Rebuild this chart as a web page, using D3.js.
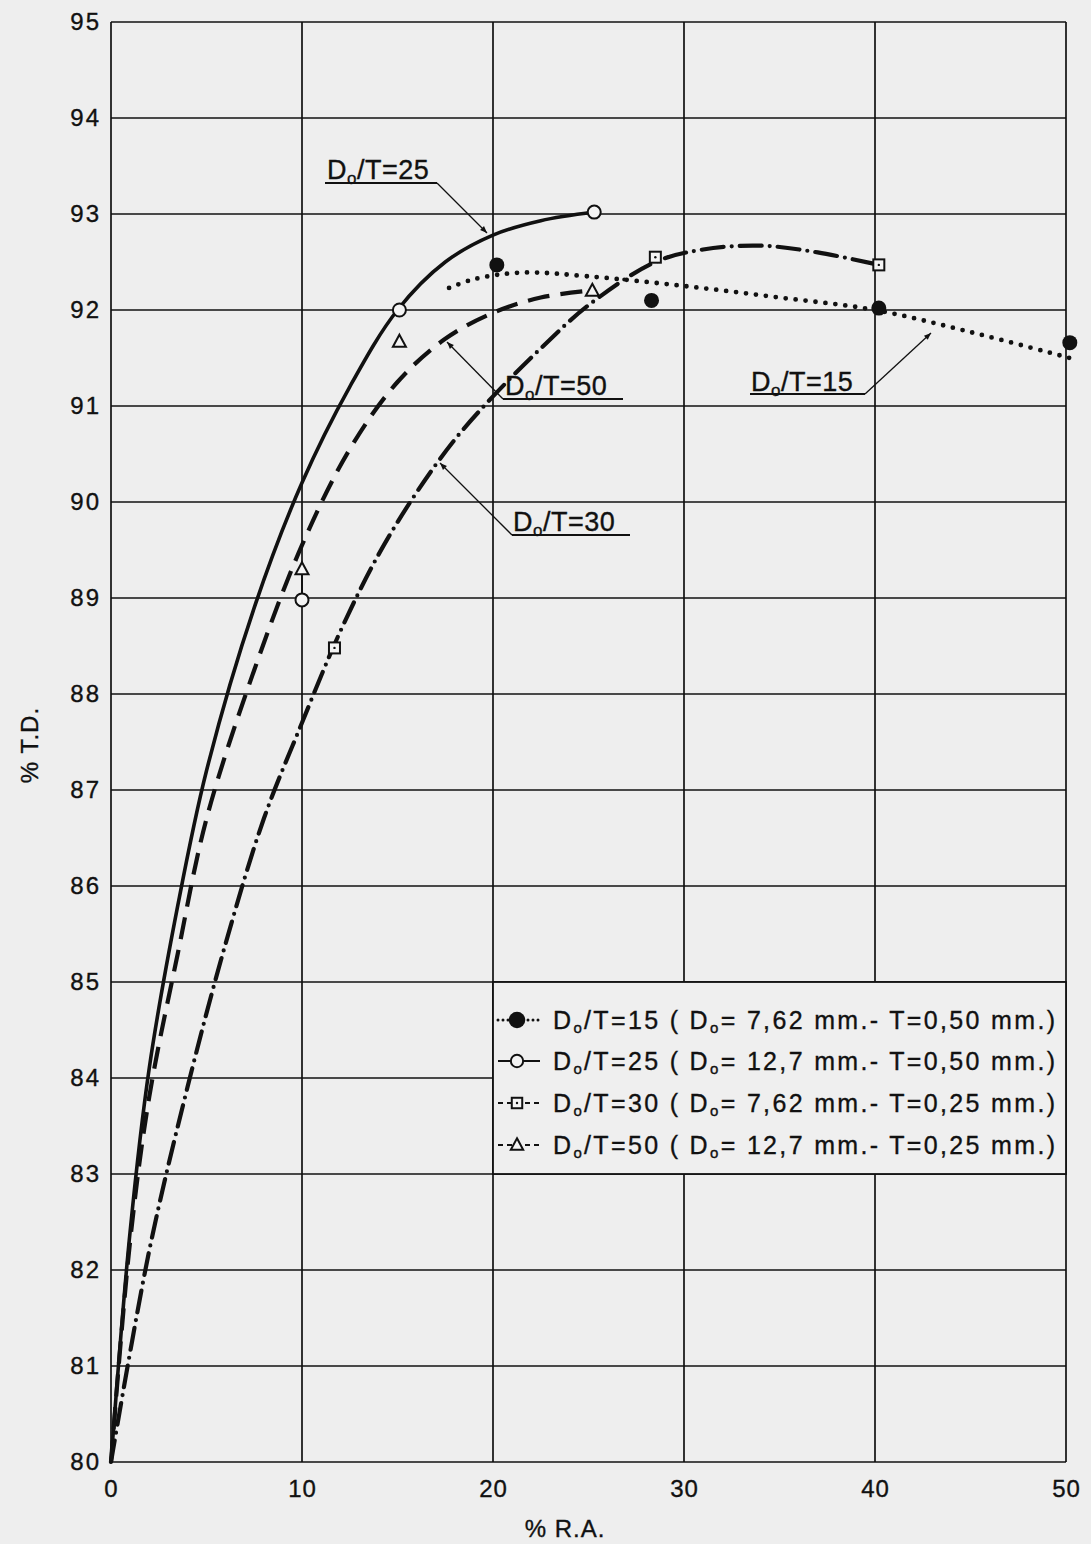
<!DOCTYPE html>
<html><head><meta charset="utf-8">
<script src="https://cdn.jsdelivr.net/npm/d3@7/dist/d3.min.js"></script>
<style>
html,body{margin:0;padding:0;background:#eeeeee;}
svg text{font-family:"Liberation Sans","DejaVu Sans",sans-serif;fill:#111;stroke:#111;stroke-width:0.35px;}
</style></head><body>
<svg id="c" width="1091" height="1544"></svg>
<script>
// ---- data ----
const xTicks = [0,10,20,30,40,50];
const yTicks = [80,81,82,83,84,85,86,87,88,89,90,91,92,93,94,95];
const seriesNames = ["15","25","30","50"];
const legendLabels = [
  ["15"," 7,62 mm.- T=0,50 mm.)"],
  ["25"," 12,7 mm.- T=0,50 mm.)"],
  ["30"," 7,62 mm.- T=0,25 mm.)"],
  ["50"," 12,7 mm.- T=0,25 mm.)"]
];
// fitted curves
const curve15x = [17.7,19,21.5,25,30,35,40,45,50.2];
const curve15y = [92.23,92.32,92.39,92.35,92.25,92.13,92.0,91.77,91.5];
const curve25x = [0,1,2,3.5,5,7.5,10,12.5,15,17.5,20,22.5,25.3];
const curve25y = [80,82.4,84.1,85.8,87.2,88.9,90.2,91.2,92.0,92.5,92.78,92.93,93.02];
const curve30x = [0,2,4,6,8,10,12,14,16,18,20,22.5,25,28.5,31,34,37,40.2];
const curve30y = [80,82.2,83.9,85.4,86.7,87.7,88.65,89.45,90.1,90.65,91.1,91.6,92.05,92.5,92.63,92.67,92.6,92.47];
const curve50x = [0,1,2,3.5,5,7.5,10,12.5,15,17.5,20,22.5,25];
const curve50y = [80,82.3,83.8,85.3,86.7,88.25,89.55,90.55,91.25,91.7,91.97,92.13,92.2];
// measured points
const pts15x = [20.2,28.3,40.2,50.2];
const pts15y = [92.47,92.1,92.02,91.66];
const pts25x = [10,15.1,25.3];
const pts25y = [88.98,92.0,93.02];
const pts30x = [11.7,28.5,40.2];
const pts30y = [88.48,92.55,92.47];
const pts50x = [10,15.1,25.2];
const pts50y = [89.3,91.67,92.2];

// ---- layout ----
const svg = d3.select("#c");
const x = d3.scaleLinear().domain([0,50]).range([111,1066]);
const y = d3.scaleLinear().domain([80,95]).range([1462,22]);
const zip = (a,b)=>a.map((v,i)=>[v,b[i]]);

// grid
const g = svg.append("g");
g.selectAll("line.v").data(xTicks).join("line")
  .attr("x1",d=>x(d)).attr("x2",d=>x(d)).attr("y1",y(95)).attr("y2",y(80))
  .attr("stroke","#111").attr("stroke-width",1.7);
g.selectAll("line.h").data(yTicks).join("line")
  .attr("x1",x(0)).attr("x2",x(50)).attr("y1",d=>y(d)).attr("y2",d=>y(d))
  .attr("stroke","#111").attr("stroke-width",1.7);

// axes (labels only)
const ax = svg.append("g").attr("transform",`translate(0,${y(80)})`)
  .call(d3.axisBottom(x).tickValues(xTicks).tickSize(0).tickPadding(12).tickFormat(d3.format("d")));
ax.select(".domain").remove();
ax.selectAll("text").attr("font-size",24).attr("font-family","Liberation Sans").attr("fill","#111").attr("dy","0.95em").attr("letter-spacing",1);
const ay = svg.append("g").attr("transform",`translate(${x(0)},0)`)
  .call(d3.axisLeft(y).tickValues(yTicks).tickSize(0).tickPadding(10).tickFormat(d3.format("d")));
ay.select(".domain").remove();
ay.selectAll("text").attr("font-size",24).attr("font-family","Liberation Sans").attr("fill","#111").attr("letter-spacing",2);

svg.append("text").attr("x",565).attr("y",1537).attr("text-anchor","middle").attr("font-size",24).attr("letter-spacing",1).text("% R.A.");
svg.append("text").attr("transform","translate(38,745) rotate(-90)").attr("text-anchor","middle").attr("font-size",24).attr("letter-spacing",1).text("% T.D.");

// curves
const line = d3.line().x(d=>x(d[0])).y(d=>y(d[1])).curve(d3.curveCatmullRom.alpha(0.5));
const styles = {
  "15":{dash:"0 10",w:4.8,cap:"round"},
  "25":{dash:null,w:3.6,cap:"butt"},
  "30":{dash:"22 8 0 8",w:4.2,cap:"round"},
  "50":{dash:"22 11",w:4.2,cap:"butt"}
};
const curves = {"15":zip(curve15x,curve15y),"25":zip(curve25x,curve25y),"30":zip(curve30x,curve30y),"50":zip(curve50x,curve50y)};
seriesNames.forEach(k=>{
  svg.append("path").attr("d",line(curves[k])).attr("fill","none").attr("stroke","#111")
    .attr("stroke-width",styles[k].w).attr("stroke-linecap",styles[k].cap)
    .attr("stroke-dasharray",styles[k].dash);
});

// markers
function marker(sel,k,cx,cy,s){
  if(k==="15") sel.append("circle").attr("cx",cx).attr("cy",cy).attr("r",7.5*s).attr("fill","#111");
  if(k==="25") sel.append("circle").attr("cx",cx).attr("cy",cy).attr("r",6.5*s).attr("fill","#f4f4f4").attr("stroke","#111").attr("stroke-width",2);
  if(k==="30"){ sel.append("rect").attr("x",cx-5.5*s).attr("y",cy-5.5*s).attr("width",11*s).attr("height",11*s).attr("fill","#f4f4f4").attr("stroke","#111").attr("stroke-width",2);
    sel.append("circle").attr("cx",cx).attr("cy",cy).attr("r",1.2).attr("fill","#111"); }
  if(k==="50") sel.append("path").attr("d",`M${cx},${cy-7*s}L${cx+6.5*s},${cy+5*s}L${cx-6.5*s},${cy+5*s}Z`).attr("fill","#f4f4f4").attr("stroke","#111").attr("stroke-width",2);
}
const pts = {"15":zip(pts15x,pts15y),"25":zip(pts25x,pts25y),"30":zip(pts30x,pts30y),"50":zip(pts50x,pts50y)};
// small vertical tick from circle to triangle at x=10
svg.append("line").attr("x1",x(10)).attr("x2",x(10)).attr("y1",y(88.98)).attr("y2",y(89.3)).attr("stroke","#111").attr("stroke-width",2);
const mk = svg.append("g");
seriesNames.forEach(k=>pts[k].forEach(p=>marker(mk,k,x(p[0]),y(p[1]),1)));

// annotations
svg.append("defs").append("marker").attr("id","arr").attr("viewBox","0 0 10 10").attr("refX",10).attr("refY",5)
  .attr("markerWidth",16).attr("markerHeight",7).attr("markerUnits","userSpaceOnUse").attr("orient","auto")
  .append("path").attr("d","M0,1L10,5L0,9Z").attr("fill","#111");
function label(tx,ty,num,ux1,ux2,uy,lx,ly,tipx,tipy){
  const t = svg.append("text").attr("x",tx).attr("y",ty).attr("font-size",27).attr("letter-spacing",0.5);
  t.append("tspan").text("D");
  t.append("tspan").attr("font-size",17).attr("dy",5).text("o");
  t.append("tspan").attr("dy",-5).text("/T="+num);
  svg.append("line").attr("x1",ux1).attr("x2",ux2).attr("y1",uy).attr("y2",uy).attr("stroke","#111").attr("stroke-width",1.8);
  svg.append("line").attr("x1",lx).attr("y1",ly).attr("x2",tipx).attr("y2",tipy).attr("stroke","#111").attr("stroke-width",1.3).attr("marker-end","url(#arr)");
}
label(327,179,"25",325,437,183,437,183,487,233);
label(505,395,"50",503,623,399,503,399,447,342);
label(513,531,"30",512,630,535,512,535,440,463);
label(751,391,"15",750,865,394,865,394,931,333);

// legend
const lg = svg.append("g");
const lx0 = 493, lx1 = x(50), ly0 = y(85), ly1 = y(83);
lg.append("rect").attr("x",lx0).attr("y",ly0).attr("width",lx1-lx0).attr("height",ly1-ly0).attr("fill","#efefef").attr("stroke","#111").attr("stroke-width",1.8);
const rowY = [1020,1061,1103,1145];
seriesNames.forEach((k,i)=>{
  const ry = rowY[i];
  lg.append("line").attr("x1",498).attr("x2",540).attr("y1",ry).attr("y2",ry).attr("stroke","#111")
    .attr("stroke-width",k==="15"?3:2.2).attr("stroke-linecap",k==="15"?"round":"butt")
    .attr("stroke-dasharray",k==="15"?"0 5":(k==="25"?null:"5 4"));
  marker(lg,k,517,ry,k==="15"?1.1:0.95);
  const t = lg.append("text").attr("x",553).attr("y",ry+9).attr("font-size",25);
  t.append("tspan").text("D");
  t.append("tspan").attr("font-size",15).attr("dy",4).text("o");
  t.append("tspan").attr("dy",-4).text("/T="+legendLabels[i][0]+" ( D");
  t.append("tspan").attr("font-size",15).attr("dy",4).text("o");
  t.append("tspan").attr("dy",-4).text("="+legendLabels[i][1]);
  t.attr("textLength",1055-553).attr("lengthAdjust","spacing");
});
</script>
</body></html>
